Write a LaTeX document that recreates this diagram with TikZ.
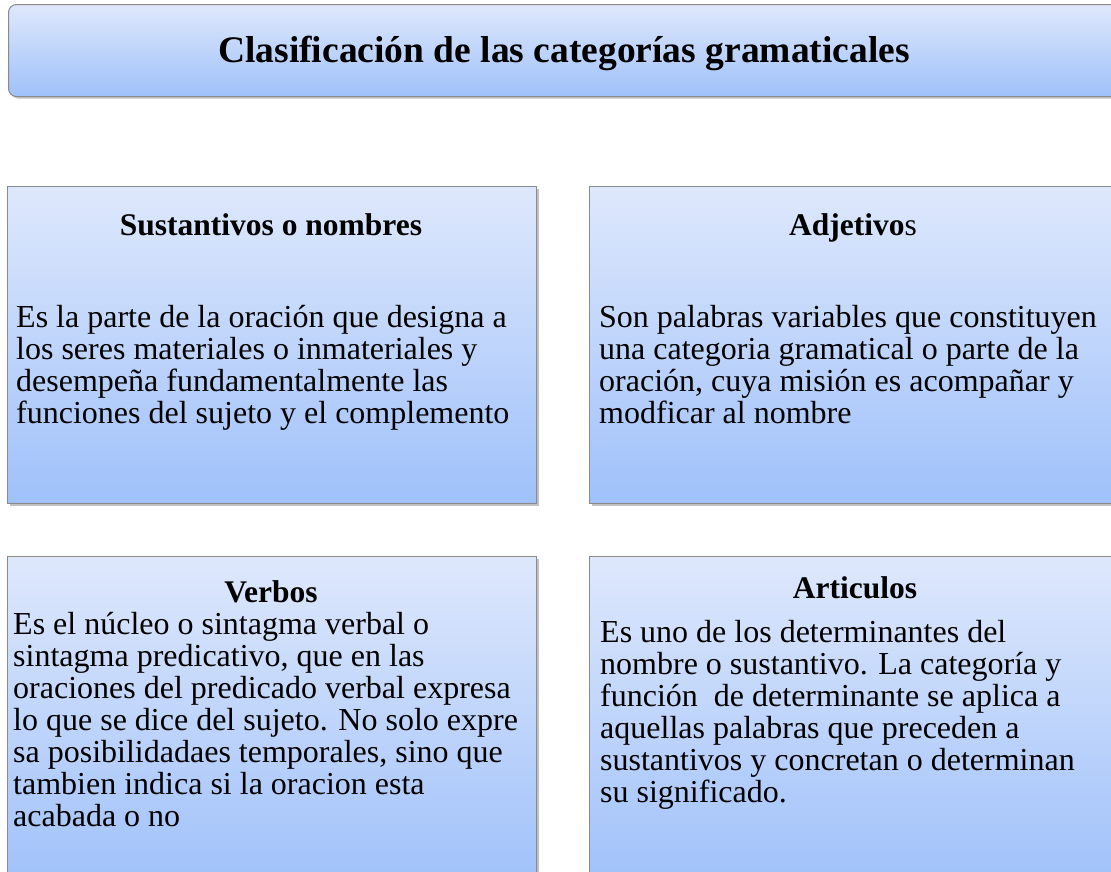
\documentclass[tikz,border=0pt]{standalone}
\usepackage{fontspec}
\setmainfont{Liberation Serif}
\usetikzlibrary{shadows}
\definecolor{topc}{HTML}{DEE8FC}
\definecolor{botc}{HTML}{9FC1FA}
\definecolor{edgec}{HTML}{8A8A8A}
\begin{document}
\begin{tikzpicture}[x=1pt,y=-1pt,
  panel/.style={draw=edgec, line width=1pt, top color=topc, bottom color=botc,
    inner sep=0pt, anchor=north west,
    drop shadow={shadow xshift=2pt, shadow yshift=-2pt, opacity=0.35, fill=black!70}},
  head/.style={font=\fontsize{31.5}{34}\selectfont\bfseries, anchor=base, inner sep=0pt},
  body/.style={font=\fontsize{32}{32}\selectfont, align=left, anchor=north west, inner sep=0pt}]
\useasboundingbox (0,0) rectangle (1111,871);
% title
\node[panel, rounded corners=8pt, minimum width=1114pt, minimum height=92pt] (title) at (8,4) {};
\node[font=\fontsize{37.5}{40}\selectfont\bfseries, anchor=base, inner sep=0pt] (titletext) at (564,62) {Clasificación de las categorías gramaticales};
% boxes
\node[panel, minimum width=529pt, minimum height=317pt] (b1) at (7,186) {};
\node[panel, minimum width=530pt, minimum height=317pt] (b2) at (589,186) {};
\node[panel, minimum width=529pt, minimum height=330pt] (b3) at (7,556) {};
\node[panel, minimum width=530pt, minimum height=330pt] (b4) at (589,556) {};
% headings
\node[head] (h1) at (271,235) {Sustantivos o nombres};
\node[head] (h2) at (853,235) {\textbf{Adjetivo}\mdseries s};
\node[head] (h3) at (271,602) {Verbos};
\node[head] (h4) at (855,598) {Articulos};
% bodies
\node[body] (t1) at (16,304.6) {\strut Es la parte de la oración que designa a\\los seres materiales o inmateriales y\\desempeña fundamentalmente las\\funciones del sujeto y el complemento};
\node[body] (t2) at (599,304.6) {\strut Son palabras variables que constituyen\\una categoria gramatical o parte de la\\oración, cuya misión es acompañar y\\modficar al nombre};
\node[body] (t3) at (13,612) {\strut Es el núcleo o sintagma verbal o\\sintagma predicativo, que en las\\oraciones del predicado verbal expresa\\lo que se dice del sujeto. No solo expre\\sa posibilidadaes temporales, sino que\\tambien indica si la oracion esta\\acabada o no};
\node[body] (t4) at (600,620) {\strut Es uno de los determinantes del\\nombre o sustantivo. La categoría y\\función~ de determinante se aplica a\\aquellas palabras que preceden a\\sustantivos y concretan o determinan\\su significado.};
\end{tikzpicture}
\end{document}
